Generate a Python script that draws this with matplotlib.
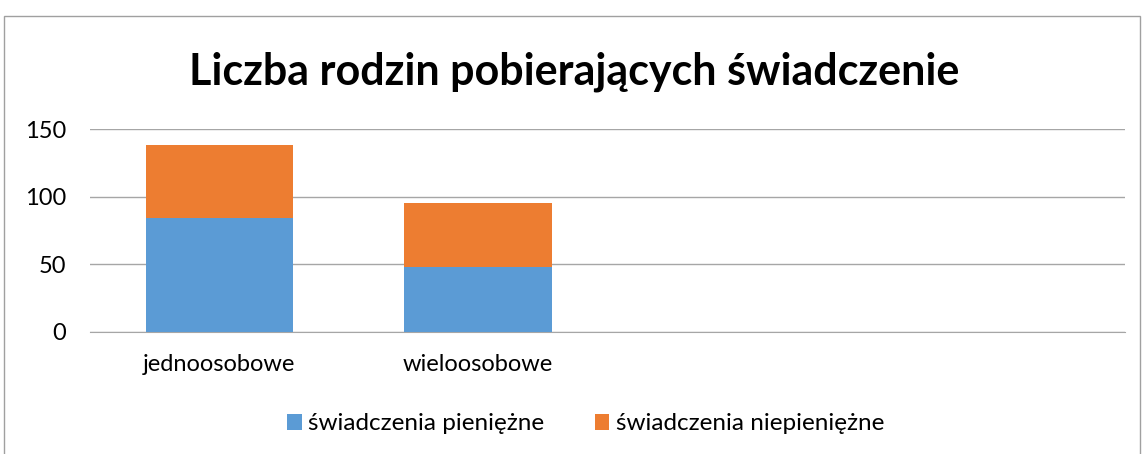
import numpy as np
import matplotlib.pyplot as plt
from matplotlib.patches import Rectangle

plt.rcParams['font.family'] = ['Lato', 'DejaVu Sans']

# Data
categories = ['jednoosobowe', 'wieloosobowe']
pieniezne = [84, 48]
niepieniezne = [54, 47]
series_labels = ['świadczenia pieniężne', 'świadczenia niepieniężne']
yticks = [0, 50, 100, 150]

colors = ['#5b9bd5', '#ed7d31']
grid_color = '#a6a6a6'
n_slots = 4  # chart has room for four categories, only two filled

fig = plt.figure(figsize=(11.48, 4.54), dpi=100)
ax = fig.add_axes([90 / 1148, 1 - 331.7 / 454, (1125 - 90) / 1148, (331.7 - 129) / 454])

x = np.arange(len(categories))
bar_width = 0.57
ax.bar(x, pieniezne, bar_width, color=colors[0], label=series_labels[0], zorder=3)
ax.bar(x, niepieniezne, bar_width, bottom=pieniezne, color=colors[1],
       label=series_labels[1], zorder=3)

ax.set_xlim(-0.5, n_slots - 0.5)
ax.set_ylim(0, 150)
ax.set_yticks(yticks)
ax.set_xticks(x)
ax.set_xticklabels(categories)
ax.yaxis.grid(True, color=grid_color, linewidth=1, zorder=0)
ax.tick_params(axis='both', length=0, labelsize=17, colors='black')
ax.tick_params(axis='x', pad=16)
ax.tick_params(axis='y', pad=17)
for s in ['top', 'right', 'left']:
    ax.spines[s].set_visible(False)
ax.spines['bottom'].set_color(grid_color)

fig.text(0.5, 1 - 72 / 454, 'Liczba rodzin pobierających świadczenie',
         ha='center', va='center', fontsize=31, fontweight='bold')

fig.legend(loc='center', bbox_to_anchor=(0.51, 1 - 424 / 454), ncol=2,
           frameon=False, fontsize=17.5, handlelength=0.6, handleheight=0.6,
           handletextpad=0.25, columnspacing=2.1)

# outer chart border
fig.patches.append(Rectangle((4 / 1148, -0.01), 1136 / 1148, 1 - 16 / 454 + 0.01,
                             transform=fig.transFigure, fill=False,
                             edgecolor='#a0a0a0', linewidth=1))

fig.savefig('out.png', dpi=100)
